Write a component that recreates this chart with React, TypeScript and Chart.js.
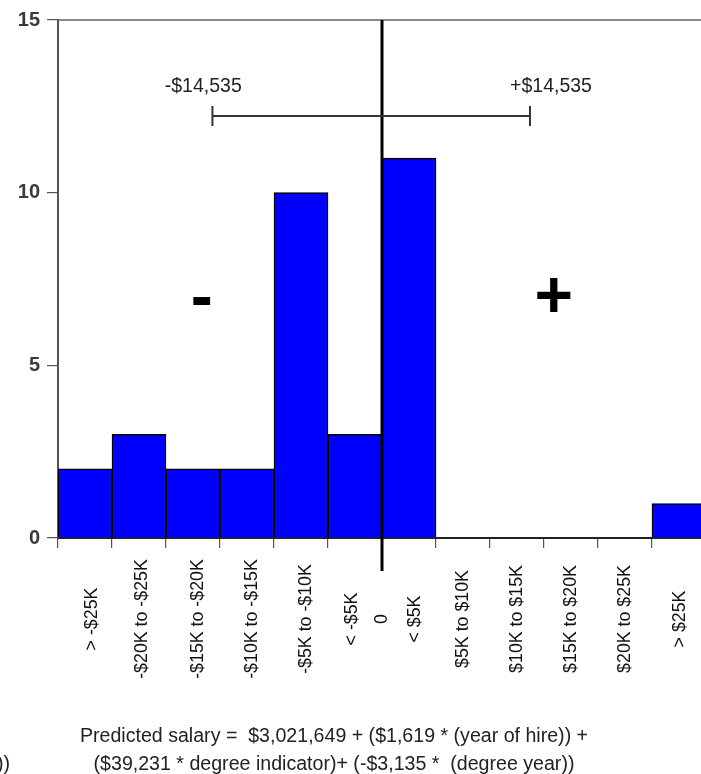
import React, { useEffect, useRef } from 'react';
import { Chart, registerables } from 'chart.js';

Chart.register(...registerables);

// ---- data ----
const binLabels = [
  '> -$25K', '-$20K to -$25K', '-$15K to -$20K', '-$10K to -$15K', '-$5K to -$10K', '< -$5K',
  '0', '< $5K', '$5K to $10K', '$10K to $15K', '$15K to $20K', '$20K to $25K', '> $25K',
];
const labelPositions = [0.64, 1.56, 2.6, 3.6, 4.6, 5.45, 6, 6.62, 7.5, 8.5, 9.5, 10.5, 11.52];
const binCenters = [0.5, 1.5, 2.5, 3.5, 4.5, 5.5, 6.5, 7.5, 8.5, 9.5, 10.5, 11.5];
const counts = [2, 3, 2, 2, 10, 3, 11, 0, 0, 0, 0, 1];
const yTicks = [0, 5, 10, 15];
const zeroPosition = 6;
const errorBarRange = [2.86, 8.74];
const errorBarLevel = 12.22;
const errorLabels = ['-$14,535', '+$14,535'];
const errorLabelPositions = [2.69, 9.13];
const errorLabelLevel = 13.07;
const signLabels = ['-', '+'];
const signX = [2.66, 9.18];
const signY = [6.98, 7.0];
const formulaLines = [
  'Predicted salary =  $3,021,649 + ($1,619 * (year of hire)) +',
  '($39,231 * degree indicator)+ (-$3,135 *  (degree year))',
];
const strayText = '))';

const FONT = "'Liberation Sans', Arial, Helvetica, sans-serif";

const overlayPlugin = {
  id: 'overlay',
  afterDraw(chart: any) {
    const { ctx, chartArea } = chart;
    const xs = chart.scales.x;
    const ys = chart.scales.y;
    ctx.save();

    // top frame line
    ctx.strokeStyle = '#666';
    ctx.lineWidth = 1.5;
    ctx.beginPath();
    ctx.moveTo(chartArea.left, chartArea.top);
    ctx.lineTo(chartArea.right, chartArea.top);
    ctx.stroke();

    // zero line
    const zx = xs.getPixelForValue(zeroPosition);
    ctx.strokeStyle = '#000';
    ctx.lineWidth = 3;
    ctx.beginPath();
    ctx.moveTo(zx, chartArea.top);
    ctx.lineTo(zx, chartArea.bottom + 33);
    ctx.stroke();

    // error bar
    const ex1 = xs.getPixelForValue(errorBarRange[0]);
    const ex2 = xs.getPixelForValue(errorBarRange[1]);
    const ey = ys.getPixelForValue(errorBarLevel);
    ctx.strokeStyle = '#333';
    ctx.lineWidth = 2;
    ctx.beginPath();
    ctx.moveTo(ex1, ey);
    ctx.lineTo(ex2, ey);
    ctx.moveTo(ex1, ey - 10);
    ctx.lineTo(ex1, ey + 10);
    ctx.moveTo(ex2, ey - 10);
    ctx.lineTo(ex2, ey + 10);
    ctx.stroke();

    // error labels
    ctx.fillStyle = '#222';
    ctx.font = `19.5px ${FONT}`;
    ctx.textAlign = 'center';
    ctx.textBaseline = 'middle';
    errorLabels.forEach((t, i) => {
      ctx.fillText(t, xs.getPixelForValue(errorLabelPositions[i]), ys.getPixelForValue(errorLabelLevel));
    });

    // sign labels
    ctx.fillStyle = '#000';
    ctx.font = `bold 66px ${FONT}`;
    signLabels.forEach((t, i) => {
      ctx.fillText(t, xs.getPixelForValue(signX[i]), ys.getPixelForValue(signY[i]) + 3);
    });

    // x labels (rotated, centered)
    ctx.fillStyle = '#111';
    ctx.font = `17.8px ${FONT}`;
    binLabels.forEach((t, i) => {
      const x = xs.getPixelForValue(labelPositions[i]);
      ctx.save();
      ctx.translate(x, 619);
      ctx.rotate(-Math.PI / 2);
      ctx.textAlign = 'center';
      ctx.textBaseline = 'middle';
      ctx.fillText(t, 0, 0);
      ctx.restore();
    });

    // formula
    ctx.fillStyle = '#222';
    ctx.font = `19.6px ${FONT}`;
    ctx.textAlign = 'center';
    ctx.textBaseline = 'middle';
    ctx.fillText(formulaLines[0], 334, 737);
    ctx.fillText(formulaLines[1], 334, 765);
    ctx.textAlign = 'left';
    ctx.fillText(strayText, -3, 765);

    ctx.restore();
  },
};

export default function App() {
  const ref = useRef<HTMLCanvasElement>(null);
  useEffect(() => {
    if (!ref.current) return;
    const chart = new Chart(ref.current, {
      type: 'bar',
      data: {
        datasets: [
          {
            data: counts.map((c, i) => ({ x: binCenters[i], y: c })),
            backgroundColor: '#0000ff',
            borderColor: '#000',
            borderWidth: 1.5,
            barPercentage: 1,
            categoryPercentage: 1,
          },
        ],
      },
      options: {
        responsive: false,
        animation: false,
        layout: { padding: { top: 20, right: 14, left: 0, bottom: 0 } },
        plugins: { legend: { display: false }, tooltip: { enabled: false }, title: { display: false } },
        scales: {
          x: {
            type: 'linear',
            min: 0,
            max: 12,
            offset: false,
            grid: { display: true, offset: false, drawOnChartArea: false, drawTicks: true, tickLength: 10, color: '#555', lineWidth: 1.2 },
            border: { display: true, color: '#222', width: 2 },
            ticks: { stepSize: 1, display: false },
            afterFit: (s: any) => { s.height = 236; },
          },
          y: {
            min: 0,
            max: 15,
            afterBuildTicks: (s: any) => { s.ticks = yTicks.map((v) => ({ value: v })); },
            grid: { drawOnChartArea: false, drawTicks: true, tickLength: 11, color: '#555', lineWidth: 1.2 },
            border: { display: true, color: '#555', width: 2 },
            ticks: { color: '#3a3a3a', font: { size: 20, family: FONT, weight: 'bold' }, padding: 7 },
            afterFit: (s: any) => { s.width = 58; },
          },
        },
      },
      plugins: [overlayPlugin],
    });
    return () => chart.destroy();
  }, []);
  return (
    <div style={{ position: 'fixed', left: 0, top: 0, width: 701, height: 774, overflow: 'hidden', background: '#fff' }}>
      <canvas ref={ref} width={720} height={774} style={{ display: 'block' }} />
    </div>
  );
}
